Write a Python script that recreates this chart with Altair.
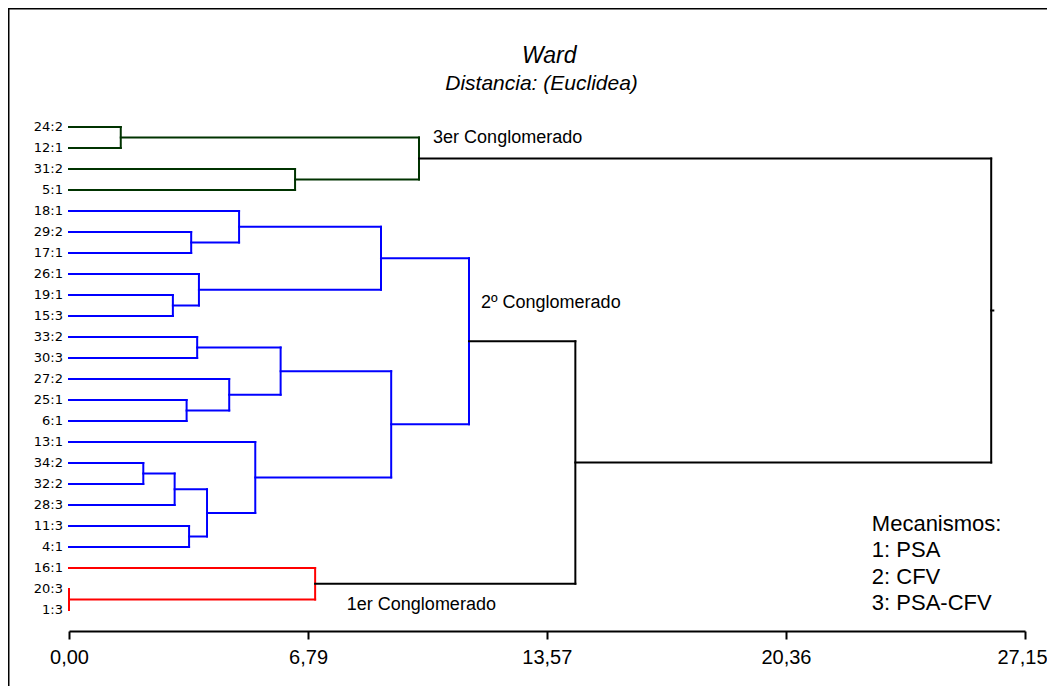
import altair as alt
import pandas as pd

# ---------------- data ----------------
leaf_labels = ["24:2", "12:1", "31:2", "5:1", "18:1", "29:2", "17:1", "26:1",
               "19:1", "15:3", "33:2", "30:3", "27:2", "25:1", "6:1", "13:1",
               "34:2", "32:2", "28:3", "11:3", "4:1", "16:1", "20:3", "1:3"]

# merges (node ids: leaves 0..23, merge k creates node 24+k)
merge_left = [0, 2, 24, 5, 4, 8, 7, 28, 10, 13, 12, 32, 16, 36, 19, 37, 15, 35, 31, 22, 21, 42, 26]
merge_right = [1, 3, 25, 6, 27, 9, 29, 30, 11, 14, 33, 34, 17, 18, 20, 38, 39, 40, 41, 23, 43, 44, 45]
merge_height = [1.47, 6.42, 9.94, 3.47, 4.83, 2.95, 3.69, 8.86, 3.64, 3.34, 4.55, 6.01,
                2.11, 3.00, 3.41, 3.92, 5.29, 9.15, 11.36, 0.0, 6.99, 14.38, 26.19]
merge_group = ["c3", "c3", "c3", "c2", "c2", "c2", "c2", "c2", "c2", "c2", "c2", "c2",
               "c2", "c2", "c2", "c2", "c2", "c2", "c2", "c1", "c1", "top", "top"]
root_stub_end = 26.25

axis_ticks = [0.0, 6.79, 13.57, 20.36, 27.15]
axis_max = 27.15

title_lines = ["Ward", "Distancia: (Euclidea)"]
cluster_names = ["3er Conglomerado", "2º Conglomerado", "1er Conglomerado"]
legend_lines = ["Mecanismos:", "1: PSA", "2: CFV", "3: PSA-CFV"]

group_colors = {"c3": "#003300", "c2": "#0000ff", "c1": "#ff0000", "top": "#000000"}

# ---------------- build dendrogram segments ----------------
n = len(leaf_labels)
pos = list(range(n)) + [0.0] * len(merge_left)
hgt = [0.0] * n + [0.0] * len(merge_left)
segs = []
for k, (l, r, h, g) in enumerate(zip(merge_left, merge_right, merge_height, merge_group)):
    node = n + k
    pos[node] = (pos[l] + pos[r]) / 2.0
    hgt[node] = h
    c = group_colors[g]
    segs.append(dict(x=h, x2=h, y=pos[l], y2=pos[r], color=c))
    for ch in (l, r):
        if h - hgt[ch] > 1e-9:
            segs.append(dict(x=hgt[ch], x2=h, y=pos[ch], y2=pos[ch], color=c))
root = n + len(merge_left) - 1
segs.append(dict(x=hgt[root], x2=root_stub_end, y=pos[root], y2=pos[root], color="#000000"))
seg_df = pd.DataFrame(segs)

leaf_df = pd.DataFrame({"label": leaf_labels, "y": list(range(n)), "x": [0.0] * n})

# ---------------- scales ----------------
FONT = "Liberation Sans"
xscale = alt.Scale(domain=[0, axis_max], nice=False, zero=False)
yscale = alt.Scale(domain=[-1, 24], nice=False, zero=False, reverse=True)

xaxis = alt.Axis(values=axis_ticks, title=None, grid=False,
                 labelExpr="replace(format(datum.value, '.2f'), '.', ',')",
                 domainColor="black", domainWidth=2, tickColor="black", tickWidth=2,
                 tickSize=8, labelFont=FONT, labelFontSize=20, labelColor="black",
                 labelPadding=8, labelFlush=False, labelOverlap=False, labelBound=False,
                 labelOffset={"condition": {"test": "datum.value > 27", "value": -3}, "value": 0})

lines = alt.Chart(seg_df).mark_rule(strokeWidth=2, strokeCap="square").encode(
    x=alt.X("x:Q", scale=xscale, axis=xaxis),
    x2="x2:Q",
    y=alt.Y("y:Q", scale=yscale, axis=None),
    y2="y2:Q",
    color=alt.Color("color:N", scale=None),
)

leaves = alt.Chart(leaf_df).mark_text(align="right", baseline="middle", dx=-6,
                                      font="DejaVu Sans", fontSize=13, color="black").encode(
    x=alt.X("x:Q", scale=xscale), y=alt.Y("y:Q", scale=yscale), text="label:N")

# title lines (positions in data units)
title_df = pd.DataFrame({"text": title_lines, "x": [13.64, 13.42], "y": [-3.05, -1.76],
                         "size": [23, 21]})
titles = alt.Chart(title_df).mark_text(align="center", baseline="alphabetic", font=FONT,
                                       fontStyle="italic", color="black").encode(
    x=alt.X("x:Q", scale=xscale), y=alt.Y("y:Q", scale=yscale), text="text:N",
    size=alt.Size("size:Q", scale=None, legend=None))

# cluster annotations (positions in data units)
ann_df = pd.DataFrame({"text": cluster_names,
                       "x": [10.34, 11.70, 7.89],
                       "y": [0.78, 8.63, 22.98]})
ann = alt.Chart(ann_df).mark_text(align="left", baseline="alphabetic", font=FONT,
                                  fontSize=18, color="black").encode(
    x=alt.X("x:Q", scale=xscale), y=alt.Y("y:Q", scale=yscale), text="text:N")

leg_df = pd.DataFrame({"text": legend_lines,
                       "x": [22.80] * 4,
                       "y": [19.24 + i * 26.3 / 21.0 for i in range(4)]})
leg = alt.Chart(leg_df).mark_text(align="left", baseline="alphabetic", font=FONT,
                                  fontSize=22, color="black").encode(
    x=alt.X("x:Q", scale=xscale), y=alt.Y("y:Q", scale=yscale), text="text:N")

# outer frame (only its top and left edges fall inside the picture)
frame_df = pd.DataFrame({"a": [0]})
frame = alt.Chart(frame_df).mark_rect(fill="transparent", stroke="black", strokeWidth=2).encode(
    x=alt.value(-60.5), x2=alt.value(1100), y=alt.value(-97.5), y2=alt.value(800))

chart = alt.layer(frame, lines, leaves, titles, ann, leg).properties(
    width=956, height=525,
    padding={"left": 61, "top": 98, "right": 22, "bottom": 55},
    autosize=alt.AutoSizeParams(type="none"),
).configure(background="white").configure_view(strokeWidth=0)

chart.save("out.html", embed_options={"renderer": "svg", "actions": False})
